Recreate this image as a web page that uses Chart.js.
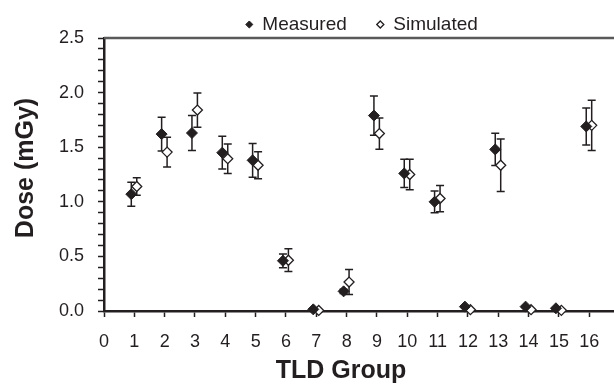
<!DOCTYPE html>
<html><head><meta charset="utf-8">
<script src="https://cdn.jsdelivr.net/npm/chart.js@4.4.1/dist/chart.umd.min.js"></script>
<style>
html,body{margin:0;padding:0;background:#fff;overflow:hidden;}
#wrap{width:614px;height:384px;overflow:hidden;position:relative;}
canvas{display:block;}
</style></head><body>
<div id="wrap"><canvas id="c" width="640" height="384"></canvas></div>
<script>
const groups = [1,2,3,4,5,6,7,8,9,10,11,12,13,14,15,16];
const measured    = [1.07,1.62,1.63,1.45,1.38,0.46,0.015,0.18,1.79,1.26,1.00,0.04,1.48,0.04,0.025,1.69];
const measuredErr = [0.11,0.155,0.16,0.15,0.155,0.063,0.005,0.02,0.18,0.13,0.10,0.005,0.147,0.005,0.005,0.17];
const simulated    = [1.14,1.455,1.84,1.395,1.335,0.465,0.005,0.265,1.625,1.25,1.03,0.012,1.335,0.012,0.006,1.70];
const simulatedErr = [0.08,0.137,0.157,0.135,0.124,0.104,0.002,0.115,0.143,0.14,0.12,0.003,0.24,0.003,0.002,0.23];
const xTickLabels = ['0','1','2','3','4','5','6','7','8','9','10','11','12','13','14','15','16'];
const yTickLabels = ['0.0','0.5','1.0','1.5','2.0','2.5'];
const seriesNames = ['Measured','Simulated'];
const xAxisTitle = 'TLD Group';
const yAxisTitle = 'Dose (mGy)';

const FONT = "'Liberation Sans', Arial, sans-serif";
const INK = '#231f20';
const OFFSET_M = -0.1, OFFSET_S = 0.08;

const measuredPts = groups.map((g,i)=>({x:g+OFFSET_M, y:measured[i], err:measuredErr[i]}));
const simulatedPts = groups.map((g,i)=>({x:g+OFFSET_S, y:simulated[i], err:simulatedErr[i]}));

const errorBars = {
  id:'errorBars',
  beforeDatasetsDraw(chart){
    const ctx = chart.ctx, xs = chart.scales.x, ys = chart.scales.y;
    ctx.save();
    ctx.strokeStyle = INK; ctx.lineWidth = 1.5;
    chart.data.datasets.forEach(ds=>{
      ds.data.forEach(p=>{
        const x = xs.getPixelForValue(p.x);
        const yt = ys.getPixelForValue(p.y + p.err);
        const yb = ys.getPixelForValue(p.y - p.err);
        ctx.beginPath();
        ctx.moveTo(x, yt); ctx.lineTo(x, yb);
        ctx.moveTo(x-4, yt); ctx.lineTo(x+4, yt);
        ctx.moveTo(x-4, yb); ctx.lineTo(x+4, yb);
        ctx.stroke();
      });
    });
    ctx.restore();
  }
};

const frame = {
  id:'frame',
  beforeDatasetsDraw(chart){
    const {ctx, chartArea:a} = chart;
    ctx.save();
    ctx.strokeStyle = '#5a5a5a'; ctx.lineWidth = 2.5;
    ctx.beginPath(); ctx.moveTo(a.left, a.top); ctx.lineTo(a.right, a.top); ctx.stroke();
    ctx.restore();
  },
  afterDraw(chart){
    const {ctx, chartArea:a} = chart;
    ctx.save();
    ctx.fillStyle = INK;
    ctx.font = "bold 25px " + FONT;
    ctx.textAlign = 'center';
    ctx.textBaseline = 'alphabetic';
    ctx.fillText(xAxisTitle, a.left + 237, 378);
    ctx.translate(26, a.top + 130);
    ctx.rotate(-Math.PI/2);
    ctx.textBaseline = 'middle';
    ctx.fillText(yAxisTitle, 0, 0);
    ctx.restore();
  }
};

new Chart(document.getElementById('c'), {
  type:'scatter',
  data:{
    datasets:[
      {label:seriesNames[0], data:measuredPts, pointStyle:'rectRot', pointRadius:5.5, pointHoverRadius:5.5,
       backgroundColor:INK, borderColor:INK, borderWidth:1, clip:false},
      {label:seriesNames[1], data:simulatedPts, pointStyle:'rectRot', pointRadius:5, pointHoverRadius:5,
       backgroundColor:'#ffffff', borderColor:INK, borderWidth:1.3, clip:false}
    ]
  },
  options:{
    responsive:false, animation:false, devicePixelRatio:1,
    layout:{padding:{top:-15, right:20.4, left:0, bottom:0}},
    plugins:{
      tooltip:{enabled:false},
      legend:{
        position:'top', fullSize:false, maxHeight:53,
        labels:{usePointStyle:true, boxWidth:7, boxHeight:5, padding:30, color:INK,
                font:{family:FONT, size:19}}
      }
    },
    scales:{
      x:{
        type:'linear', min:0, max:17,
        afterFit(s){ s.height = 73; },
        border:{display:true, color:INK, width:2.5},
        grid:{drawOnChartArea:false, drawTicks:true, tickLength:6, tickColor:INK, tickWidth:1.5},
        ticks:{stepSize:1, autoSkip:false, maxRotation:0, padding:14, color:INK,
               font:{family:FONT, size:18},
               callback:(v)=> (Number.isInteger(v) && xTickLabels[v] !== undefined) ? xTickLabels[v] : ''}
      },
      y:{
        type:'linear', min:0, max:2.5,
        afterFit(s){ s.width = 104; },
        border:{display:true, color:INK, width:2.5},
        grid:{drawOnChartArea:false, drawTicks:true, tickLength:6, tickColor:INK, tickWidth:1.5},
        ticks:{stepSize:0.1, autoSkip:false, padding:14, color:INK,
               font:{family:FONT, size:18},
               callback:(v)=>{ const k = Math.round(v*10); return (k % 5 === 0) ? yTickLabels[k/5] : ''; }}
      }
    }
  },
  plugins:[errorBars, frame]
});
</script>
</body></html>
